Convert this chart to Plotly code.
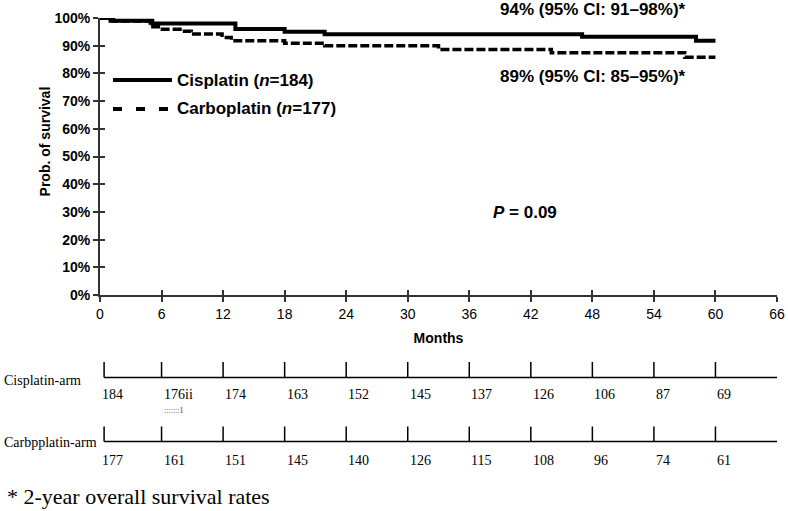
import plotly.graph_objects as go

# ---- data ----
cis_months = [0, 1.3, 5.1, 13.2, 18.0, 21.9, 47.0, 58.1, 60.0]
cis_surv = [100, 99.0, 98.0, 96.0, 95.0, 94.1, 93.2, 91.8, 91.8]
carbo_months = [0, 1.0, 4.9, 5.9, 7.8, 8.9, 11.9, 12.8, 18.0, 21.9, 33.0, 44.0, 57.0, 60.0]
carbo_surv = [100, 98.9, 96.8, 95.9, 95.2, 94.2, 93.0, 91.8, 90.9, 90.0, 88.6, 87.5, 85.8, 85.8]

x_ticks = [0, 6, 12, 18, 24, 30, 36, 42, 48, 54, 60, 66]
y_ticks = [0, 10, 20, 30, 40, 50, 60, 70, 80, 90, 100]
y_ticklabels = [f"{v}%" for v in y_ticks]

risk_months = [0, 6, 12, 18, 24, 30, 36, 42, 48, 54, 60]
cis_risk = ["184", "176ii", "174", "163", "152", "145", "137", "126", "106", "87", "69"]
carbo_risk = ["177", "161", "151", "145", "140", "126", "115", "108", "96", "74", "61"]

SANS = "Liberation Sans, Arial, sans-serif"
SERIF = "Liberation Serif, Times New Roman, serif"
AXC = "#333333"

fig = go.Figure()
fig.add_trace(go.Scatter(x=cis_months, y=cis_surv, mode="lines", line_shape="hv",
                         line=dict(color="black", width=4), name="Cisplatin", showlegend=False))
fig.add_trace(go.Scatter(x=carbo_months, y=carbo_surv, mode="lines", line_shape="hv",
                         line=dict(color="black", width=3.5, dash="9px,3px"), name="Carboplatin",
                         showlegend=False))
# invisible trace on overlay axes (for crossing ticks)
fig.add_trace(go.Scatter(x=[0], y=[0], xaxis="x2", yaxis="y2", mode="markers",
                         marker=dict(opacity=0), showlegend=False, hoverinfo="skip"))

fig.update_layout(
    width=788, height=511,
    margin=dict(l=100, r=11, t=18, b=216),
    paper_bgcolor="white", plot_bgcolor="white",
    xaxis=dict(range=[0, 66], tickvals=x_ticks, ticks="outside", ticklen=5, tickwidth=1.5,
               tickcolor=AXC, showline=True, linecolor=AXC, linewidth=2, showgrid=False,
               zeroline=False, automargin=False,
               tickfont=dict(family=SANS, size=14, color="black"),
               title=dict(text="<b>Months</b>", font=dict(family=SANS, size=14, color="black"),
                          standoff=12)),
    yaxis=dict(range=[0, 100], tickvals=y_ticks, ticktext=[f"<b>{t}</b>" for t in y_ticklabels],
               ticks="outside", ticklen=5, tickwidth=1.5, tickcolor=AXC, showline=True,
               linecolor=AXC, linewidth=2, showgrid=False, zeroline=False, automargin=False,
               tickfont=dict(family=SANS, size=14, color="black")),
    xaxis2=dict(range=[0, 66], overlaying="x", tickvals=x_ticks, ticks="inside", ticklen=5,
                tickwidth=1.5, tickcolor=AXC, showticklabels=False, showline=False,
                showgrid=False, zeroline=False),
    yaxis2=dict(range=[0, 100], overlaying="y", tickvals=y_ticks, ticks="inside", ticklen=5,
                tickwidth=1.5, tickcolor=AXC, showticklabels=False, showline=False,
                showgrid=False, zeroline=False),
)

ann = []
shapes = []

# y-axis title
ann.append(dict(text="<b>Prob. of survival</b>", xref="paper", yref="paper", x=-0.081, y=0.555,
                xanchor="center", yanchor="middle",
                textangle=-90, showarrow=False, font=dict(family=SANS, size=14, color="black")))

# legend (manual)
shapes.append(dict(type="line", xref="paper", yref="paper", x0=0.0192, x1=0.1063, y0=0.776, y1=0.776,
                   line=dict(color="black", width=4)))
shapes.append(dict(type="line", xref="paper", yref="paper", x0=0.0192, x1=0.1063, y0=0.6715, y1=0.6715,
                   line=dict(color="black", width=4, dash="9px,14px")))
ann.append(dict(text="<b>Cisplatin (<i>n</i>=184)</b>", xref="paper", yref="paper", x=0.1108, y=0.776,
                xanchor="left", yanchor="middle", showarrow=False,
                font=dict(family=SANS, size=17, color="black")))
ann.append(dict(text="<b>Carboplatin (<i>n</i>=177)</b>", xref="paper", yref="paper", x=0.1108, y=0.6715,
                xanchor="left", yanchor="middle", showarrow=False,
                font=dict(family=SANS, size=17, color="black")))

# survival rate annotations
ann.append(dict(text="<b>94% (95% CI: 91–98%)*</b>", xref="paper", yref="paper", x=0.728, y=1.029,
                xanchor="center", yanchor="middle", showarrow=False,
                font=dict(family=SANS, size=17, color="black")))
ann.append(dict(text="<b>89% (95% CI: 85–95%)*</b>", xref="paper", yref="paper", x=0.728, y=0.7906,
                xanchor="center", yanchor="middle", showarrow=False,
                font=dict(family=SANS, size=17, color="black")))
ann.append(dict(text="<b><i>P</i> = 0.09</b>", xref="paper", yref="paper", x=0.628, y=0.2996,
                xanchor="center", yanchor="middle", showarrow=False,
                font=dict(family=SANS, size=17, color="black")))

# risk table
rows = [
    ("Cisplatin-arm", cis_risk, -0.2978, -0.2419, -0.361, -0.307),
    ("Carbpplatin-arm", carbo_risk, -0.529, -0.4747, -0.5957, -0.534),
]
for label, vals, yline, ytop, ynum, ylab in rows:
    shapes.append(dict(type="line", xref="x", yref="paper", x0=0.4, x1=66, y0=yline, y1=yline,
                       line=dict(color="black", width=1.5)))
    for m in risk_months:
        xm = max(m, 0.4)
        shapes.append(dict(type="line", xref="x", yref="paper", x0=xm, x1=xm, y0=yline, y1=ytop,
                           line=dict(color="black", width=1.5)))
    for m, v in zip(risk_months, vals):
        ann.append(dict(text=v, xref="x", yref="paper", x=m, y=ynum, xanchor="left",
                        yanchor="middle", showarrow=False,
                        font=dict(family=SERIF, size=14, color="black")))
    ann.append(dict(text=label, xref="paper", yref="paper", x=-0.1448, y=ylab, xanchor="left",
                    yanchor="middle", showarrow=False,
                    font=dict(family=SERIF, size=14, color="black")))

ann.append(dict(text=":::::::1", xref="x", yref="paper", x=6, y=-0.418, xanchor="left",
                yanchor="middle", showarrow=False, font=dict(family=SERIF, size=8, color="#444")))

ann.append(dict(text="* 2-year overall survival rates", xref="paper", yref="paper", x=-0.1403,
                y=-0.729, xanchor="left", yanchor="middle", showarrow=False,
                font=dict(family=SERIF, size=22, color="black")))

fig.update_layout(annotations=ann, shapes=shapes)
fig.write_html("out.html", config={"displayModeBar": False},
               post_script="document.body.style.margin='0';document.body.style.overflow='hidden';")
